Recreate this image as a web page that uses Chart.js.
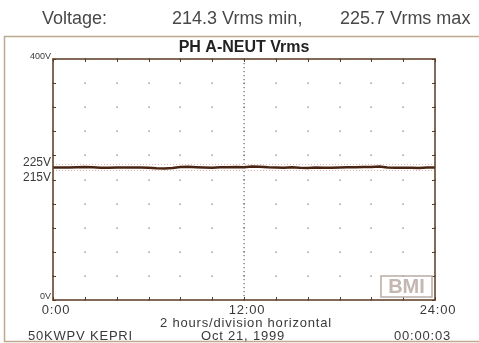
<!DOCTYPE html>
<html>
<head>
<meta charset="utf-8">
<script src="https://cdn.jsdelivr.net/npm/chart.js@4"></script>
<style>
  html, body { margin: 0; padding: 0; background: #fff; }
  #wrap { position: relative; width: 479px; height: 343px; }
</style>
</head>
<body>
<div id="wrap"><canvas id="vChart" width="479" height="343"></canvas></div>
<script>
// hours of day, every 30 min
const hours = [0,0.5,1,1.5,2,2.5,3,3.5,4,4.5,5,5.5,6,6.5,7,7.5,8,8.5,9,9.5,10,10.5,11,11.5,
  12,12.5,13,13.5,14,14.5,15,15.5,16,16.5,17,17.5,18,18.5,19,19.5,20,20.5,21,21.5,22,22.5,23,23.5,24];
// Vrms phase A - neutral
const vrms = [219.8,220.0,219.8,220.4,220.6,220.3,219.4,219.6,220.0,219.8,219.9,219.8,219.6,218.6,
  218.4,219.2,220.6,221.0,220.4,220.0,219.4,220.2,220.4,220.8,220.2,221.4,221.0,220.2,219.8,219.4,
  220.4,219.6,219.2,220.0,219.4,219.6,220.0,220.4,220.4,220.6,220.6,221.6,219.8,219.6,219.6,219.4,
  219.2,219.8,220.0];
const limits = [215, 225];
const yLabels = [400, 225, 215, 0];
const xLabels = [0, 12, 24];
const xDiv = [0,2,4,6,8,10,12,14,16,18,20,22,24];
const yDiv = [0,40,80,120,160,200,240,280,320,360,400];

const ink = "#5b3a22";
const txt = "#3a3a3a";
const font = "'Liberation Sans'";

const decor = {
  id: "decor",
  beforeDatasetsDraw(c) {
    const { ctx, chartArea: a, scales: { x, y } } = c;
    ctx.save();
    // outer frame
    ctx.strokeStyle = "#bda98e";
    ctx.lineWidth = 1.5;
    ctx.strokeRect(4.5, 36.5, 480, 305);
    // intersection dots
    ctx.fillStyle = "#666";
    xDiv.forEach(h => yDiv.forEach(v => {
      ctx.fillRect(Math.round(x.getPixelForValue(h)) - 0.5, Math.round(y.getPixelForValue(v)) - 0.5, 1.2, 1.2);
    }));
    // 12:00 dotted line
    const mx = Math.round(x.getPixelForValue(12));
    for (let py = a.top; py < a.bottom; py += 4) ctx.fillRect(mx - 0.5, py, 1.2, 1.2);
    // tick marks on four sides
    ctx.strokeStyle = ink;
    ctx.lineWidth = 1;
    xDiv.forEach(h => {
      const px = Math.round(x.getPixelForValue(h)) + 0.5;
      ctx.beginPath();
      ctx.moveTo(px, a.top); ctx.lineTo(px, a.top + 3);
      ctx.moveTo(px, a.bottom); ctx.lineTo(px, a.bottom - 3);
      ctx.stroke();
    });
    yDiv.forEach(v => {
      const py = Math.round(y.getPixelForValue(v)) + 0.5;
      ctx.beginPath();
      ctx.moveTo(a.left, py); ctx.lineTo(a.left + 3, py);
      ctx.moveTo(a.right, py); ctx.lineTo(a.right - 3, py);
      ctx.stroke();
    });
    // BMI logo
    ctx.strokeStyle = "#b8aca6";
    ctx.lineWidth = 1.5;
    ctx.strokeRect(a.right - 54, a.bottom - 24, 51, 21);
    ctx.fillStyle = "#c4b6b0";
    ctx.font = "bold 20px " + font;
    ctx.textAlign = "center";
    ctx.textBaseline = "middle";
    ctx.fillText("BMI", a.right - 28.5, a.bottom - 13);
    ctx.restore();
  },
  afterDraw(c) {
    const { ctx, chartArea: a, scales: { x, y } } = c;
    ctx.save();
    // plot border
    ctx.strokeStyle = ink;
    ctx.lineWidth = 1.5;
    ctx.strokeRect(a.left, a.top, a.right - a.left, a.bottom - a.top);
    ctx.fillStyle = "#484848";
    ctx.textBaseline = "middle";
    // header
    ctx.font = "18px " + font;
    ctx.textAlign = "left";
    ctx.fillText("Voltage:", 42, 19);
    ctx.fillText("214.3 Vrms min,", 172, 19);
    ctx.fillText("225.7 Vrms max", 340, 19);
    // title
    ctx.fillStyle = "#222";
    ctx.font = "bold 16px " + font;
    ctx.textAlign = "center";
    ctx.fillText("PH A-NEUT Vrms", x.getPixelForValue(12), 48);
    // y labels
    ctx.fillStyle = txt;
    ctx.textAlign = "right";
    yLabels.forEach(v => {
      let py = y.getPixelForValue(v);
      let size = 12;
      if (v === 225) py -= 2;
      if (v === 215) py += 7;
      if (v === 400) { py -= 2; size = 9; }
      if (v === 0) { py -= 3; size = 9; }
      ctx.font = size + "px " + font;
      ctx.fillText(v + "V", a.left - 2, py);
    });
    // x labels
    ctx.letterSpacing = "0.8px";
    ctx.font = "13px " + font;
    ctx.textAlign = "center";
    xLabels.forEach(h => {
      ctx.fillText(h + ":00", x.getPixelForValue(h) + 3, a.bottom + 10);
    });
    ctx.fillText("2 hours/division horizontal", x.getPixelForValue(12) + 2, a.bottom + 23);
    ctx.fillText("Oct 21, 1999", x.getPixelForValue(12) - 1, a.bottom + 36);
    ctx.textAlign = "left";
    ctx.fillText("50KWPV KEPRI", 28, a.bottom + 36);
    ctx.textAlign = "right";
    ctx.fillText("00:00:03", 451, a.bottom + 36);
    ctx.restore();
  }
};

new Chart(document.getElementById("vChart"), {
  type: "line",
  data: {
    datasets: [
      ...limits.map(l => ({
        data: [{ x: 0, y: l }, { x: 24, y: l }],
        borderColor: "#e3b5ad",
        borderWidth: 1,
        borderDash: [1, 2],
        pointRadius: 0
      })),
      {
        data: hours.map((h, i) => ({ x: h, y: vrms[i] })),
        borderColor: "#4a2412",
        borderWidth: 2.5,
        pointRadius: 0,
        tension: 0
      }
    ]
  },
  options: {
    responsive: false,
    animation: false,
    layout: { padding: { left: 53, right: 44, top: 59, bottom: 43 } },
    scales: {
      x: { type: "linear", min: 0, max: 24, display: false },
      y: { min: 0, max: 400, display: false }
    },
    plugins: { legend: { display: false }, tooltip: { enabled: false } }
  },
  plugins: [decor]
});
</script>
</body>
</html>
